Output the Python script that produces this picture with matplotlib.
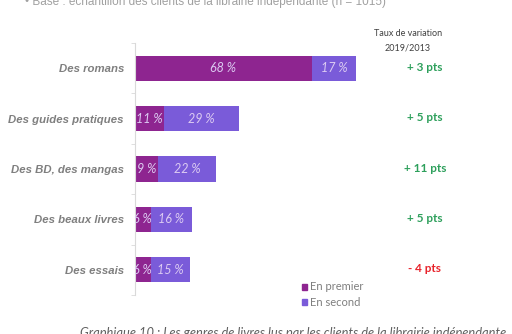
import matplotlib
matplotlib.use("Agg")
import matplotlib.pyplot as plt
from matplotlib.patches import Rectangle

categories = ["Des romans", "Des guides pratiques", "Des BD, des mangas",
              "Des beaux livres", "Des essais"]
en_premier = [68, 11, 9, 6, 6]
en_second = [17, 29, 22, 16, 15]
variation = ["+ 3 pts", "+ 5 pts", "+ 11 pts", "+ 5 pts", "- 4 pts"]
variation_sign = [1, 1, 1, 1, -1]
series_names = ["En premier", "En second"]

W, H = 512, 334
fig = plt.figure(figsize=(W / 100, H / 100), dpi=100)
fig.patch.set_facecolor("white")

c1 = "#8E2590"
c2 = "#7A5BD9"
lab_col = "#DCCBF2"
gray = "#7F7F7F"

def fx(px):
    return px / W

def fy(py):
    return 1 - py / H

ax = fig.add_axes([fx(135), fy(295), fx(260), (295 - 43) / H])
ypos = list(range(len(categories)))
ax.barh(ypos, en_premier, height=0.5, color=c1)
ax.barh(ypos, en_second, left=en_premier, height=0.5, color=c2)
for y, a, b in zip(ypos, en_premier, en_second):
    ax.text(a / 2, y, f"{a} %", ha="center", va="center", fontsize=9,
            style="italic", family="Lato", color=lab_col, clip_on=True)
    ax.text(a + b / 2, y, f"{b} %", ha="center", va="center", fontsize=9,
            style="italic", family="Lato", color=lab_col, clip_on=True)

ax.set_xlim(0, 100)
ax.set_ylim(4.49, -0.47)
ax.set_yticks(ypos)
ax.set_yticklabels(categories, fontsize=8.2, fontweight="bold", style="italic",
                   family="Liberation Sans", color=gray)
ax.set_yticks([-0.5 + i for i in range(len(categories) + 1)], minor=True)
ax.tick_params(axis="y", which="major", length=0, pad=8)
ax.tick_params(axis="y", which="minor", length=3, color="#D9D9D9")
ax.set_xticks([])
for s in ["top", "right", "bottom"]:
    ax.spines[s].set_visible(False)
ax.spines["left"].set_color("#D9D9D9")
ax.set_facecolor("none")

# Variation column
fig.text(fx(408), fy(33), "Taux de variation", ha="center", va="center",
         fontsize=6.5, family="Lato", color="#404040")
fig.text(fx(408), fy(48), "2019/2013", ha="center", va="center",
         fontsize=6.5, family="Lato", color="#404040")
for y, txt, sgn in zip(ypos, variation, variation_sign):
    yp = ax.transData.transform((0, y))[1] / (H)
    fig.text(fx(425), yp + 1 / H, txt, ha="center", va="center", fontsize=8.5,
             fontweight="bold", family="Lato",
             color="#2EA05C" if sgn > 0 else "#E8232B")

# Legend
for i, (name, col) in enumerate(zip(series_names, [c1, c2])):
    ypx = 287 + 15 * i
    fig.patches.append(Rectangle((fx(302), fy(ypx + 3)), 5 / W, 6 / H,
                                 transform=fig.transFigure, color=col))
    fig.text(fx(310), fy(ypx), name, ha="left", va="center", fontsize=8,
             family="Lato", color=gray)

# Header and caption
fig.text(fx(25), fy(2), "• Base : échantillon des clients de la librairie indépendante (n = 1015)",
         ha="left", va="center", fontsize=8.5, family="Liberation Sans", color="#A0A0A0")
fig.text(fx(80), fy(333), "Graphique 10 : Les genres de livres lus par les clients de la librairie indépendante",
         ha="left", va="center", fontsize=9.3, style="italic", family="Lato", color="#606060")

fig.savefig("out.png", dpi=100, facecolor="white")
